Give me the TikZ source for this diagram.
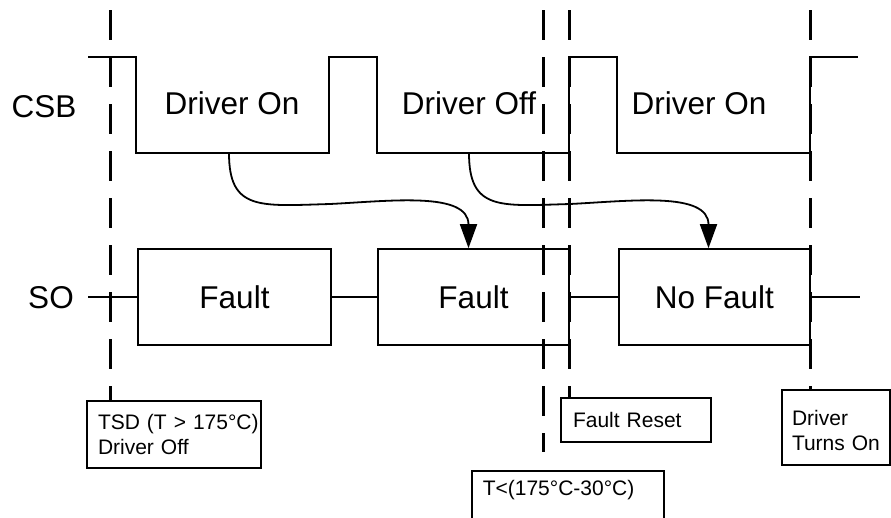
\documentclass[tikz,border=0pt]{standalone}
\usepackage{fontspec}
\setmainfont{Liberation Sans}
\usepackage{tikz}
\usetikzlibrary{calc, arrows.meta}
\newcommand{\fsBig}{\fontsize{31.5}{36}\selectfont}
\newcommand{\fsNote}{\fontsize{21}{25}\selectfont}

\begin{document}
\begin{tikzpicture}[x=1pt, y=-1pt,
    wave/.style={line width=1.8pt},
    sig/.style={font=\fsBig},
    stateBox/.style={draw, line width=1.6pt, minimum width=#1, minimum height=96pt, inner sep=0pt, font=\fsBig},
    note/.style={draw, line width=1.6pt, font=\fsNote, align=left, inner xsep=11pt},
    cutLine/.style={line width=3pt, dash pattern=on 30pt off 17pt},
    cause/.style={line width=1.8pt, -{Triangle[length=24pt, width=17pt]}}]
  \useasboundingbox (0,0) rectangle (891,517);
  \node[sig] (csb) at (44,107) {CSB};
  \node[sig] (so) at (51,298) {SO};
  \draw[wave] (88,57) -| (136,153) -| (329,57) -| (377,153) -| (569,57)
    -| (617,153) -| (810,57) -- (858,57);
  \node[sig] (on1) at (232,103.5) {Driver On};
  \node[sig] (off) at (469,103.5) {Driver Off};
  \node[sig] (on2) at (699,103.5) {Driver On};
  \node[stateBox=193pt] (f1) at (234.5,297) {Fault};
  \node[stateBox=191pt] (f2) at (473.5,297) {Fault};
  \node[stateBox=191pt] (f3) at (714.5,297) {No Fault};
  \coordinate (soL) at (88,297);
  \coordinate (soR) at (860,297);
  \draw[line width=1.6pt] (soL) -- (f1.west) (f1.east) -- (f2.west)
    (f2.east) -- (f3.west) (f3.east) -- (soR);
  \coordinate (src1) at (229,153);
  \coordinate (src2) at (469,153);
  \coordinate (mid1) at (330,204);
  \coordinate (mid2) at (570,204);
  \foreach \s/\m/\b/\dx in {src1/mid1/f2/-5, src2/mid2/f3/-6}{
    \draw[cause] (\s) .. controls +(0,58) and +(-70,2) .. (\m)
      .. controls +(60,-3) and +(0,-57) .. ([xshift=\dx pt]\b.north);
  }
  \node[note, text width=152pt, minimum height=67pt] (tsd) at (174,434.5)
    {\mbox{TSD (T > 175\textdegree C)}\\Driver Off};
  \node[note, text width=126pt, inner xsep=12pt, minimum height=44pt] (fr) at (636,420)
    {Fault Reset};
  \node[note, text width=88pt, inner xsep=10pt, text height=22pt, minimum height=75pt] (dto) at (836,427.5)
    {Driver\\Turns On};
  \node[note, anchor=north west, text width=170pt, inner ysep=10pt,
    text height=15pt, text depth=60pt] (cool) at (471,470)
    {T<(175\textdegree C-30\textdegree C)};
  \coordinate (mk1) at (110,10);
  \coordinate (mk2) at (543,10);
  \coordinate (mk2end) at (543,452);
  \coordinate (mk3) at (569,10);
  \coordinate (mk4) at (810,10);
  \draw[cutLine] (mk1) -- (mk1 |- tsd.north);
  \draw[cutLine] (mk2) -- (mk2end);
  \draw[cutLine] (mk3) -- (mk3 |- fr.north);
  \draw[cutLine] (mk4) -- (mk4 |- dto.north);
\end{tikzpicture}
\end{document}
